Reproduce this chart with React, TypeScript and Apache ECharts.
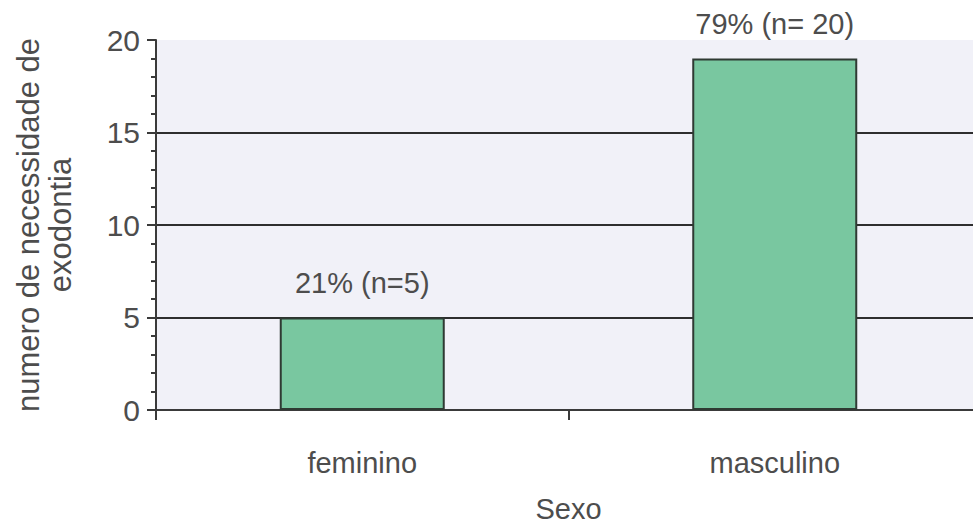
import React, { useEffect, useRef } from "react";
import * as echarts from "echarts";

const categories = ["feminino", "masculino"];
const values = [5, 19];
const barLabels = ["21% (n=5)", "79% (n= 20)"];
const yTicks = [0, 5, 10, 15, 20];

export default function App() {
  const ref = useRef<HTMLDivElement>(null);
  useEffect(() => {
    if (!ref.current) return;
    const chart = echarts.init(ref.current, undefined, { renderer: "svg" });
    const font = "'Liberation Sans', Arial, sans-serif";
    const txt = "#4d4d4d";
    chart.setOption({
      animation: false,
      textStyle: { fontFamily: font },
      grid: {
        left: 156,
        top: 40,
        width: 825,
        height: 370,
        show: true,
        backgroundColor: "#f1f1f8",
        borderWidth: 0,
        containLabel: false,
        outerBoundsMode: "none",
      },
      xAxis: {
        type: "category",
        data: categories,
        name: "Sexo",
        nameLocation: "middle",
        nameGap: 84,
        nameTextStyle: { fontSize: 29, color: txt, fontFamily: font },
        axisLine: { lineStyle: { color: "#3a3a3a", width: 2 } },
        axisTick: { show: true, length: 10, lineStyle: { color: "#3a3a3a", width: 2 } },
        axisLabel: { fontSize: 29, color: txt, margin: 38, fontFamily: font },
        splitLine: { show: false },
      },
      yAxis: {
        type: "value",
        min: yTicks[0],
        max: yTicks[yTicks.length - 1],
        interval: 5,
        name: "numero de necessidade de\nexodontia",
        nameLocation: "middle",
        nameGap: 80,
        nameRotate: 90,
        nameTextStyle: { fontSize: 31, color: txt, lineHeight: 32, fontFamily: font },
        axisLine: { show: true, lineStyle: { color: "#3a3a3a", width: 2 } },
        axisTick: { show: true, inside: false, length: 9, lineStyle: { color: "#3a3a3a", width: 2 } },
        minorTick: { show: true, splitNumber: 5, length: 5, lineStyle: { color: "#3a3a3a", width: 2 } },
        axisLabel: { fontSize: 30, color: txt, margin: 16, fontFamily: font },
        splitLine: {
          show: true,
          showMinLine: false,
          showMaxLine: false,
          lineStyle: { color: "#2e2e2e", width: 2 },
        },
      },
      series: [
        {
          type: "bar",
          data: values,
          barWidth: 165,
          itemStyle: { color: "#79c7a0", borderColor: "#2f3a33", borderWidth: 2 },
          label: {
            show: true,
            position: "top",
            distance: 20,
            fontSize: 29,
            color: txt,
            fontFamily: font,
            formatter: (p: any) => barLabels[p.dataIndex],
          },
        },
      ],
    });
    return () => chart.dispose();
  }, []);
  return <div ref={ref} style={{ width: 973, height: 526, position: "absolute", left: 0, top: 0, background: "#fff" }} />;
}
